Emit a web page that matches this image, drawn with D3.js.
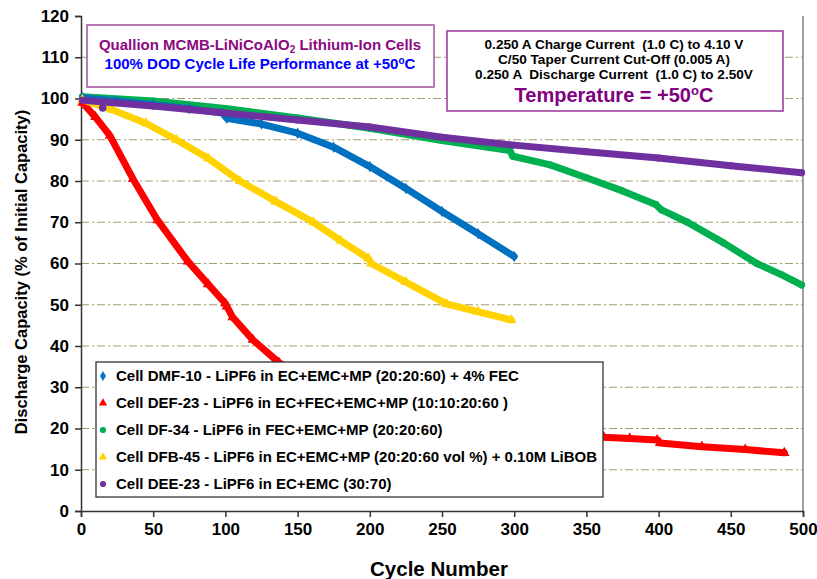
<!DOCTYPE html>
<html>
<head>
<meta charset="utf-8">
<script src="https://cdn.jsdelivr.net/npm/d3@7"></script>
<style>
  body { margin: 0; background: #fff; }
  svg text { font-family: "Liberation Sans", Arial, sans-serif; font-weight: bold; }
</style>
</head>
<body>
<script>
var width = 817, height = 579;

// tick values
var yTicks = [0,10,20,30,40,50,60,70,80,90,100,110,120];
var xTicks = [0,50,100,150,200,250,300,350,400,450,500];

// Cell DMF-10 (blue diamonds)
var dmfCycles = [1, 25, 50, 75, 98, 101, 125, 150, 175, 200, 225, 250, 275, 300];
var dmfValues = [100.2, 99.4, 98.5, 97.5, 96.5, 95.2, 93.8, 91.6, 88.2, 83.5, 78.2, 72.6, 67.2, 61.7];

// Cell DEF-23 (red triangles)
var defCycles = [1, 10, 20, 36, 53, 74, 88, 100, 101, 105, 119, 137, 150, 175, 200, 250, 300, 350, 362, 380, 399, 401, 430, 460, 487];
var defValues = [99, 95.5, 91, 80.5, 70.5, 60.5, 55, 50.3, 49.6, 47, 41.5, 36, 33, 29, 26, 22, 19.8, 18.3, 17.9, 17.6, 17.2, 16.5, 15.6, 14.9, 14.1];

// Cell DF-34 (green circles)
var dfCycles = [1, 50, 100, 150, 200, 250, 297, 299, 325, 350, 375, 398, 402, 420, 445, 468, 485, 499];
var dfValues = [100.4, 99.4, 97.6, 95.3, 92.8, 89.8, 87.4, 86.0, 83.9, 80.8, 77.6, 74.3, 73.0, 70.0, 65.0, 60.0, 57.3, 54.8];

// Cell DFB-45 (yellow triangles)
var dfbCycles = [1, 22, 45, 66, 88, 110, 135, 161, 180, 199, 201, 225, 253, 275, 298];
var dfbValues = [99.7, 97.2, 94, 90, 85.5, 80, 75, 70, 65.5, 61.2, 60, 55.5, 50.2, 48.3, 46.3];

// Cell DEE-23 (purple circles)
var deeCycles = [1, 50, 100, 150, 200, 250, 300, 350, 400, 450, 499];
var deeValues = [99.6, 98.2, 96.5, 94.8, 93.1, 90.6, 88.7, 87.1, 85.6, 83.7, 82.0];
var deeOutlierCycles = [15];
var deeOutlierValues = [97.7];

var series = [
  {name: "Cell DF-34 - LiPF6 in FEC+EMC+MP (20:20:60)", c: dfCycles, v: dfValues, color: "#00B050", sym: d3.symbolCircle, leg: 2},
  {name: "Cell DMF-10 - LiPF6 in EC+EMC+MP (20:20:60) + 4% FEC", c: dmfCycles, v: dmfValues, color: "#0070C0", sym: d3.symbolDiamond, leg: 0},
  {name: "Cell DEF-23 - LiPF6 in EC+FEC+EMC+MP (10:10:20:60 )", c: defCycles, v: defValues, color: "#FF0000", sym: d3.symbolTriangle, leg: 1},
  {name: "Cell DFB-45 - LiPF6 in EC+EMC+MP (20:20:60 vol %) + 0.10M LiBOB", c: dfbCycles, v: dfbValues, color: "#FFD200", sym: d3.symbolTriangle, leg: 3},
  {name: "Cell DEE-23 - LiPF6 in EC+EMC (30:70)", c: deeCycles, v: deeValues, color: "#7030A0", sym: d3.symbolCircle, leg: 4}
];

var svg = d3.select("body").append("svg")
  .attr("width", width)
  .attr("height", height);

var xScale = d3.scaleLinear().domain([0, 500]).range([81, 803]);
var yScale = d3.scaleLinear().domain([0, 120]).range([511, 16]);

// gridlines
svg.append("g").selectAll("line")
  .data(yTicks.filter(function(t){ return t > 0 && t < 120; }))
  .enter().append("line")
  .attr("x1", xScale(0)).attr("x2", xScale(500))
  .attr("y1", function(d){ return yScale(d); })
  .attr("y2", function(d){ return yScale(d); })
  .attr("stroke", "#A39B6C")
  .attr("stroke-width", 1.2)
  .attr("stroke-dasharray", "8,3,2,3");

// right border
svg.append("line")
  .attr("x1", xScale(500)).attr("x2", xScale(500))
  .attr("y1", yScale(120)).attr("y2", yScale(0))
  .attr("stroke", "#808080").attr("stroke-width", 1.5);

// axes
var yAxis = d3.axisLeft(yScale).tickValues(yTicks).tickSize(6).tickPadding(6);
var gy = svg.append("g").attr("transform", "translate(" + xScale(0) + ",0)").call(yAxis);
var xAxis = d3.axisBottom(xScale).tickValues(xTicks).tickSize(6).tickPadding(6);
var gx = svg.append("g").attr("transform", "translate(0," + yScale(0) + ")").call(xAxis);
[gx, gy].forEach(function(g){
  g.select(".domain").attr("stroke", "#333").attr("stroke-width", 1.5);
  g.selectAll(".tick line").attr("stroke", "#333").attr("stroke-width", 1.5);
  g.selectAll(".tick text").attr("fill", "#000")
    .style("font-size", "17px").style("font-family", "'Liberation Sans', Arial, sans-serif").style("font-weight", "bold");
});

// series
var line = d3.line()
  .x(function(d){ return xScale(d[0]); })
  .y(function(d){ return yScale(d[1]); });

series.forEach(function(s){
  var pts = s.c.map(function(c, i){ return [c, s.v[i]]; });
  svg.append("path")
    .datum(pts)
    .attr("d", line)
    .attr("fill", "none")
    .attr("stroke", s.color)
    .attr("stroke-width", 7)
    .attr("stroke-linejoin", "round")
    .attr("stroke-linecap", "round");
  svg.append("g").selectAll("path")
    .data(pts)
    .enter().append("path")
    .attr("d", d3.symbol().type(s.sym).size(s.sym === d3.symbolTriangle ? 48 : 38))
    .attr("transform", function(d){ return "translate(" + xScale(d[0]) + "," + yScale(d[1]) + ")"; })
    .attr("fill", s.color);
});

// purple outlier
svg.append("g").selectAll("path")
  .data(deeOutlierCycles.map(function(c, i){ return [c, deeOutlierValues[i]]; }))
  .enter().append("path")
  .attr("d", d3.symbol().type(d3.symbolCircle).size(45))
  .attr("transform", function(d){ return "translate(" + xScale(d[0]) + "," + yScale(d[1]) + ")"; })
  .attr("fill", "#7030A0");

// axis titles
svg.append("text")
  .attr("transform", "translate(27," + 272 + ") rotate(-90)")
  .attr("text-anchor", "middle")
  .style("font-size", "16.5px")
  .text("Discharge Capacity (% of Initial Capacity)");

svg.append("text")
  .attr("x", 439).attr("y", 576)
  .attr("text-anchor", "middle")
  .style("font-size", "20.5px")
  .text("Cycle Number");

// title box
svg.append("rect")
  .attr("x", 87).attr("y", 25).attr("width", 347).attr("height", 62)
  .attr("fill", "#fff").attr("stroke", "#A050A0").attr("stroke-width", 1.5);
var t1 = svg.append("text").attr("x", 260).attr("y", 50).attr("text-anchor", "middle")
  .style("font-size", "15px").attr("fill", "#8B0A80");
t1.append("tspan").text("Quallion MCMB-LiNiCoAlO");
t1.append("tspan").attr("dy", 3).style("font-size", "10px").text("2");
t1.append("tspan").attr("dy", -3).text(" Lithium-Ion Cells");
var t2 = svg.append("text").attr("x", 260).attr("y", 69).attr("text-anchor", "middle")
  .style("font-size", "15px").attr("fill", "#0000FF");
t2.append("tspan").text("100% DOD Cycle Life Performance at +50");
t2.append("tspan").attr("dy", -5).style("font-size", "10px").text("o");
t2.append("tspan").attr("dy", 5).text("C");

// conditions box
svg.append("rect")
  .attr("x", 447).attr("y", 31).attr("width", 336).attr("height", 80)
  .attr("fill", "#fff").attr("stroke", "#993399").attr("stroke-width", 1.5);
var condLines = ["0.250 A Charge Current  (1.0 C) to 4.10 V",
                 "C/50 Taper Current Cut-Off (0.005 A)",
                 "0.250 A  Discharge Current  (1.0 C) to 2.50V"];
condLines.forEach(function(t, i){
  svg.append("text").attr("x", 614).attr("y", 49 + i * 15)
    .attr("text-anchor", "middle").style("font-size", "13.6px")
    .attr("fill", "#000").style("white-space", "pre").text(t);
});
var t3 = svg.append("text").attr("x", 614).attr("y", 102).attr("text-anchor", "middle")
  .style("font-size", "20px").attr("fill", "#800080");
t3.append("tspan").text("Temperature = +50");
t3.append("tspan").attr("dy", -7).style("font-size", "13px").text("o");
t3.append("tspan").attr("dy", 7).text("C");

// legend
svg.append("rect")
  .attr("x", 96).attr("y", 362).attr("width", 507).attr("height", 135)
  .attr("fill", "#fff").attr("stroke", "#333").attr("stroke-width", 1.3);
var legOrder = series.slice().sort(function(a, b){ return a.leg - b.leg; });
legOrder.forEach(function(s, i){
  var ly = 376 + i * 27;
  svg.append("path")
    .attr("d", d3.symbol().type(s.sym).size(30))
    .attr("transform", "translate(103," + ly + ")")
    .attr("fill", s.color);
  svg.append("text").attr("x", 116).attr("y", ly + 5)
    .style("font-size", "15px").attr("fill", "#000").text(s.name);
});
</script>
</body>
</html>
